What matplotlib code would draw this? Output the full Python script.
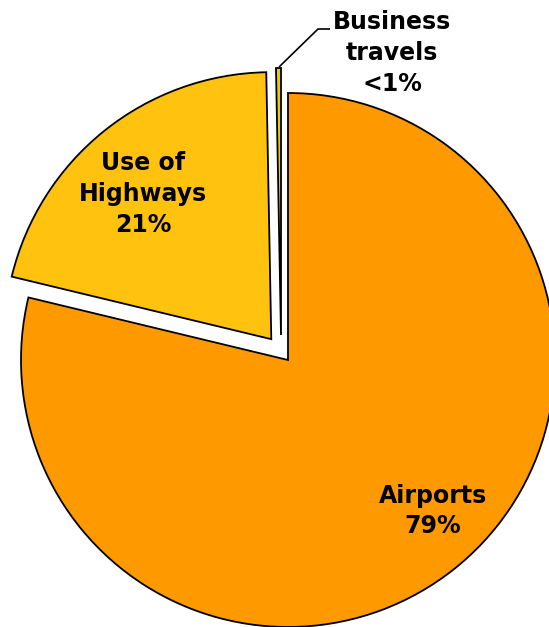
import numpy as np
import matplotlib
matplotlib.use("Agg")
import matplotlib.pyplot as plt

# data
categories = ['Airports', 'Use of Highways', 'Business travels']
shares = [79, 21, 0.3]
label_texts = ['Airports\n79%', 'Use of\nHighways\n21%', 'Business\ntravels\n<1%']
colors = ['#FF9900', '#FFC20E', '#E8D000']
explode = [0.0, 0.1, 0.1]

W, H = 549, 627
cx, cy, R = 288, 360, 267  # pixel centre and radius of the pie


def px(x, y):
    # pixel position -> data coords (radius 1 = R pixels)
    return (x - cx) / R, (cy - y) / R


fig = plt.figure(figsize=(W / 100, H / 100), dpi=100)
ax = fig.add_axes([0, 0, 1, 1])

wedges, _ = ax.pie(shares, colors=colors, explode=explode, startangle=90,
                   counterclock=False, radius=1,
                   wedgeprops=dict(edgecolor='black', linewidth=1.3))
# the tiny slice sits a little left of the airports edge, as in the original
wedges[2].set_center(px(281, 335))

x0, y0 = px(0, H)
x1, y1 = px(W, 0)
ax.set_xlim(x0, x1)
ax.set_ylim(y0, y1)
ax.set_aspect('auto')
ax.axis('off')

font = dict(fontsize=17, fontweight='bold', ha='center', va='center',
            linespacing=1.35, color='black')
ax.text(*px(433, 511), label_texts[0], **font)
ax.text(*px(143, 194), label_texts[1], **font)
ax.text(*px(392, 53), label_texts[2], **font)

# leader line for the tiny slice
lx, ly = zip(px(330, 29), px(318, 29), px(279, 67))
ax.plot(lx, ly, color='black', lw=1.2, solid_capstyle='butt')

fig.savefig('out.png', dpi=100)
